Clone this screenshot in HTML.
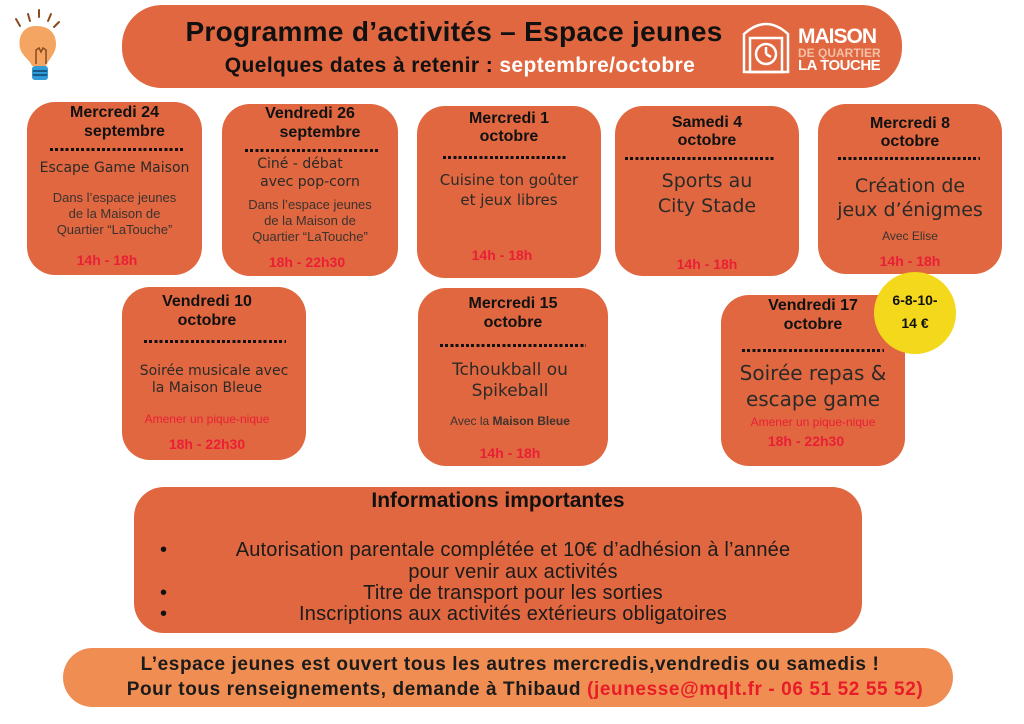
<!DOCTYPE html>
<html><head><meta charset="utf-8">
<style>
*{margin:0;padding:0;box-sizing:border-box}
body{width:1024px;height:724px;background:#fff;position:relative;overflow:hidden;font-family:"Liberation Sans","DejaVu Sans",sans-serif}
.b{position:absolute;background:#e0673f;border-radius:28px}
.t{position:absolute;text-align:center;white-space:nowrap;color:#2c2a28;line-height:1}
.h{font-weight:bold;color:#111;font-size:16px}
.m{font-family:"DejaVu Sans",sans-serif;font-size:14px;color:#2c2a28}
.d{font-size:13px;color:#3b3330}
.r{color:#ea1f35;font-weight:bold;font-size:14px}
.dot{position:absolute;height:3px;background:repeating-linear-gradient(90deg,#111 0 3px,transparent 3px 5.2px)}
.c{font-family:"Liberation Sans",sans-serif;font-weight:bold}
</style></head><body>

<!-- bulb -->
<svg style="position:absolute;left:6px;top:4px" width="60" height="78" viewBox="0 0 60 78">
<g stroke="#8a4a1e" stroke-width="2" stroke-linecap="round">
<line x1="10" y1="15" x2="14" y2="22"/><line x1="22" y1="10" x2="24" y2="17"/><line x1="33" y1="6" x2="33" y2="13"/><line x1="45" y1="10" x2="42" y2="17"/><line x1="53" y1="18" x2="48" y2="23"/></g>
<path d="M30 22 C16 22 12 34 14 44 C16 52 24 56 26 62 L40 62 C42 56 50 50 50 40 C50 30 44 22 30 22Z" fill="#f4a562"/>
<rect x="26" y="62" width="16" height="14" rx="3" fill="#2f9ad8"/>
<line x1="27" y1="67" x2="41" y2="67" stroke="#11436a" stroke-width="1.5"/><line x1="27" y1="71" x2="41" y2="71" stroke="#11436a" stroke-width="1.5"/>
<path d="M30 60 L30 46 L33 44 L35 48 L37 44 L40 46 L40 60" fill="none" stroke="#8a4a1e" stroke-width="1.5"/>
</svg>

<!-- header -->
<div class="b" style="left:122px;top:5px;width:780px;height:83px;border-radius:40px"></div>
<div class="t c" style="left:178px;width:552px;top:18px;font-size:28px;color:#111;letter-spacing:0.3px">Programme d’activités – Espace jeunes</div>
<div class="t c" style="left:200px;width:520px;top:55px;font-size:21px;color:#111;letter-spacing:0.4px">Quelques dates à retenir : <span style="color:#fff">septembre/octobre</span></div>
<svg style="position:absolute;left:740px;top:16px" width="52" height="58" viewBox="0 0 52 58" fill="none" stroke="#fff" stroke-width="2.5">
<path d="M4 56 L4 18 Q26 -2 48 18 L48 56 Z"/><rect x="10" y="22" width="32" height="34"/><circle cx="26" cy="38" r="10"/><path d="M26 38 L26 31 M26 38 L31 41"/></svg>
<div class="t" style="left:798px;top:26px;font-weight:bold;color:#fff;font-size:21px;text-align:left;letter-spacing:-1px">MAISON</div>
<div class="t" style="left:798px;top:47px;font-weight:bold;color:#f3c0a8;font-size:12px;text-align:left">DE QUARTIER</div>
<div class="t" style="left:798px;top:58px;font-weight:bold;color:#fff;font-size:15px;text-align:left;letter-spacing:-0.5px">LA TOUCHE</div>

<!-- box1 -->
<div class="b" style="left:27px;top:102px;width:175px;height:173px"></div>
<div class="t h" style="left:27px;width:175px;top:105px">Mercredi 24</div>
<div class="t h" style="left:37px;width:175px;top:124px">septembre</div>
<div class="dot" style="left:50px;width:135px;top:148px"></div>
<div class="t m" style="left:27px;width:175px;top:161px">Escape Game Maison</div>
<div class="t d" style="left:27px;width:175px;top:191px">Dans l’espace jeunes</div>
<div class="t d" style="left:27px;width:175px;top:207px">de la Maison de</div>
<div class="t d" style="left:27px;width:175px;top:223px">Quartier “LaTouche”</div>
<div class="t r" style="left:27px;width:160px;top:253px">14h - 18h</div>

<!-- box2 -->
<div class="b" style="left:222px;top:104px;width:176px;height:172px"></div>
<div class="t h" style="left:222px;width:176px;top:106px">Vendredi 26</div>
<div class="t h" style="left:232px;width:176px;top:125px">septembre</div>
<div class="dot" style="left:245px;width:135px;top:149px"></div>
<div class="t m" style="left:212px;width:176px;top:157px">Ciné - débat</div>
<div class="t m" style="left:222px;width:176px;top:175px">avec pop-corn</div>
<div class="t d" style="left:222px;width:176px;top:198px">Dans l’espace jeunes</div>
<div class="t d" style="left:222px;width:176px;top:214px">de la Maison de</div>
<div class="t d" style="left:222px;width:176px;top:230px">Quartier “LaTouche”</div>
<div class="t r" style="left:222px;width:170px;top:255px">18h - 22h30</div>

<!-- box3 -->
<div class="b" style="left:417px;top:106px;width:184px;height:172px"></div>
<div class="t h" style="left:417px;width:184px;top:111px">Mercredi 1</div>
<div class="t h" style="left:417px;width:184px;top:129px">octobre</div>
<div class="dot" style="left:443px;width:125px;top:156px"></div>
<div class="t m" style="left:417px;width:184px;top:173px;font-size:15px">Cuisine ton goûter</div>
<div class="t m" style="left:417px;width:184px;top:193px;font-size:15px">et jeux libres</div>
<div class="t r" style="left:417px;width:170px;top:248px">14h - 18h</div>

<!-- box4 -->
<div class="b" style="left:615px;top:106px;width:184px;height:170px"></div>
<div class="t h" style="left:615px;width:184px;top:115px">Samedi 4</div>
<div class="t h" style="left:615px;width:184px;top:133px">octobre</div>
<div class="dot" style="left:625px;width:150px;top:157px"></div>
<div class="t m" style="left:615px;width:184px;top:172px;font-size:19px">Sports au</div>
<div class="t m" style="left:615px;width:184px;top:197px;font-size:19px">City Stade</div>
<div class="t r" style="left:615px;width:184px;top:257px">14h - 18h</div>

<!-- box5 -->
<div class="b" style="left:818px;top:104px;width:184px;height:170px"></div>
<div class="t h" style="left:818px;width:184px;top:116px">Mercredi 8</div>
<div class="t h" style="left:818px;width:184px;top:134px">octobre</div>
<div class="dot" style="left:838px;width:142px;top:157px"></div>
<div class="t m" style="left:818px;width:184px;top:177px;font-size:19px">Création de</div>
<div class="t m" style="left:818px;width:184px;top:201px;font-size:19px">jeux d’énigmes</div>
<div class="t d" style="left:818px;width:184px;top:230px;font-size:12px">Avec Elise</div>
<div class="t r" style="left:818px;width:184px;top:254px">14h - 18h</div>

<!-- box6 -->
<div class="b" style="left:122px;top:287px;width:184px;height:173px"></div>
<div class="t h" style="left:122px;width:170px;top:294px">Vendredi 10</div>
<div class="t h" style="left:122px;width:170px;top:313px">octobre</div>
<div class="dot" style="left:144px;width:142px;top:340px"></div>
<div class="t m" style="left:122px;width:184px;top:364px">Soirée musicale avec</div>
<div class="t m" style="left:122px;width:170px;top:381px">la Maison Bleue</div>
<div class="t r" style="left:122px;width:170px;top:413px;font-size:12px;font-weight:normal">Amener un pique-nique</div>
<div class="t r" style="left:122px;width:170px;top:437px">18h - 22h30</div>

<!-- box7 -->
<div class="b" style="left:418px;top:288px;width:190px;height:178px"></div>
<div class="t h" style="left:418px;width:190px;top:296px">Mercredi 15</div>
<div class="t h" style="left:418px;width:190px;top:315px">octobre</div>
<div class="dot" style="left:440px;width:146px;top:344px"></div>
<div class="t m" style="left:418px;width:184px;top:362px;font-size:17px">Tchoukball ou</div>
<div class="t m" style="left:418px;width:184px;top:383px;font-size:17px">Spikeball</div>
<div class="t d" style="left:418px;width:184px;top:415px;font-size:12px">Avec la <b>Maison Bleue</b></div>
<div class="t r" style="left:418px;width:184px;top:446px">14h - 18h</div>

<!-- box8 -->
<div class="b" style="left:721px;top:295px;width:184px;height:171px"></div>
<div class="t h" style="left:721px;width:184px;top:298px">Vendredi 17</div>
<div class="t h" style="left:721px;width:184px;top:317px">octobre</div>
<div class="dot" style="left:742px;width:142px;top:349px"></div>
<div class="t m" style="left:721px;width:184px;top:363px;font-size:20px">Soirée repas &amp;</div>
<div class="t m" style="left:721px;width:184px;top:389px;font-size:20px">escape game</div>
<div class="t r" style="left:721px;width:184px;top:416px;font-size:12px;font-weight:normal">Amener un pique-nique</div>
<div class="t r" style="left:721px;width:170px;top:434px">18h - 22h30</div>

<!-- yellow circle -->
<div style="position:absolute;left:874px;top:272px;width:82px;height:82px;border-radius:50%;background:#f3d81b"></div>
<div class="t h" style="left:874px;width:82px;top:293px;font-size:14px">6-8-10-</div>
<div class="t h" style="left:874px;width:82px;top:316px;font-size:14px">14 €</div>

<!-- info -->
<div class="b" style="left:134px;top:487px;width:728px;height:146px;border-radius:30px"></div>
<div class="t c" style="left:134px;width:728px;top:490px;font-size:21px;color:#111">Informations importantes</div>
<div class="t" style="left:178px;width:670px;top:540px;font-size:20px;color:#1b1b1b;letter-spacing:0.2px">Autorisation parentale complétée et 10€ d’adhésion à l’année</div>
<div class="t" style="left:178px;width:670px;top:562px;font-size:20px;color:#1b1b1b;letter-spacing:0.2px">pour venir aux activités</div>
<div class="t" style="left:178px;width:670px;top:583px;font-size:20px;color:#1b1b1b;letter-spacing:0.2px">Titre de transport pour les sorties</div>
<div class="t" style="left:178px;width:670px;top:604px;font-size:20px;color:#1b1b1b;letter-spacing:0.2px">Inscriptions aux activités extérieurs obligatoires</div>
<div class="t" style="left:160px;top:540px;font-size:20px;color:#111">•</div>
<div class="t" style="left:160px;top:583px;font-size:20px;color:#111">•</div>
<div class="t" style="left:160px;top:604px;font-size:20px;color:#111">•</div>

<!-- footer -->
<div class="b" style="left:63px;top:648px;width:890px;height:59px;background:#f08d52;border-radius:30px"></div>
<div class="t c" style="left:90px;width:840px;top:655px;font-size:19px;color:#1b1b1b;letter-spacing:0.6px">L’espace jeunes est ouvert tous les autres mercredis,vendredis ou samedis !</div>
<div class="t c" style="left:90px;width:870px;top:680px;font-size:19px;color:#1b1b1b;letter-spacing:0.6px">Pour tous renseignements, demande à Thibaud <span style="color:#e81b28">(jeunesse@mqlt.fr - 06 51 52 55 52)</span></div>

</body></html>
